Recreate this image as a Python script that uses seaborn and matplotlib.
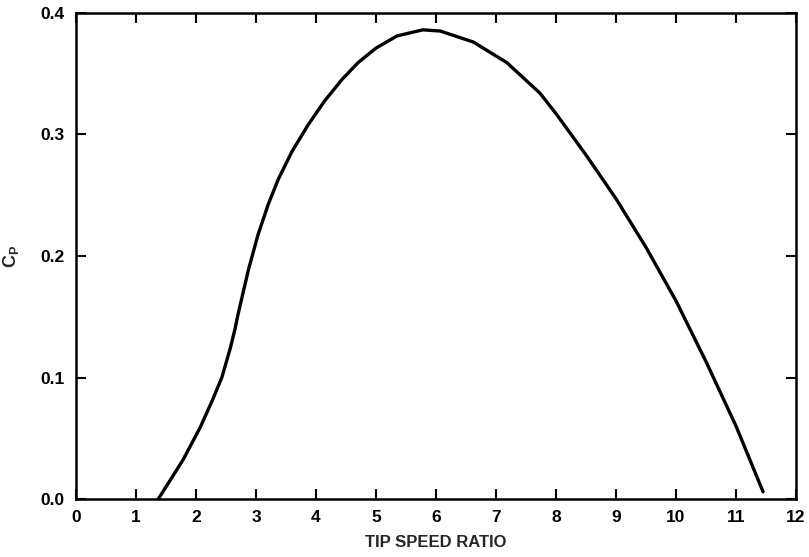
import numpy as np
import matplotlib
matplotlib.use("Agg")
import matplotlib.pyplot as plt
import seaborn as sns

# Cp vs tip speed ratio
tsr = [1.37, 1.78, 2.07, 2.27, 2.43, 2.57, 2.65, 2.70, 2.87, 3.03, 3.20, 3.37,
       3.60, 3.87, 4.15, 4.43, 4.70, 5.00, 5.35, 5.78, 6.07, 6.62, 7.18, 7.73,
       8.00, 8.50, 9.00, 9.50, 10.00, 10.50, 11.00, 11.45]
cp = [0.0, 0.032, 0.059, 0.081, 0.100, 0.124, 0.140, 0.152, 0.188, 0.217, 0.242, 0.263,
      0.286, 0.308, 0.328, 0.345, 0.359, 0.371, 0.381, 0.386, 0.385, 0.376, 0.359, 0.334,
      0.317, 0.283, 0.247, 0.207, 0.163, 0.113, 0.060, 0.006]

x_ticks = list(range(0, 13))
y_ticks = [0.0, 0.1, 0.2, 0.3, 0.4]
y_tick_labels = ["0.0", "0.1", "0.2", "0.3", "0.4"]

sns.set_theme(style="ticks")
plt.rcParams['font.family'] = ['Liberation Sans', 'DejaVu Sans']
plt.rcParams['font.weight'] = 'bold'
plt.rcParams['mathtext.fontset'] = 'custom'
plt.rcParams['mathtext.bf'] = 'Liberation Sans:bold'
plt.rcParams['mathtext.rm'] = 'Liberation Sans:bold'

fig = plt.figure(figsize=(8.09, 5.57), dpi=100)
ax = fig.add_axes([0.094, 0.104, 0.890, 0.873])

sns.lineplot(x=tsr, y=cp, ax=ax, color="black", linewidth=2.4,
             sort=False, estimator=None, solid_joinstyle="round",
             solid_capstyle="round")

ax.set_xlim(0, 12)
ax.set_ylim(0, 0.4)
ax.set_xticks(x_ticks)
ax.set_yticks(y_ticks)
ax.set_yticklabels(y_tick_labels)

ax.tick_params(direction="in", top=True, right=True, length=7, width=1.5,
               labelsize=12.5, pad=8, colors="black")
for sp in ax.spines.values():
    sp.set_linewidth(1.8)
    sp.set_color("black")

ax.set_xlabel("TIP SPEED RATIO", fontsize=12, fontweight="bold", labelpad=7)
ax.set_ylabel(r"$\mathbf{C_P}$", fontsize=13, labelpad=14)

fig.savefig("out.png", dpi=100)
